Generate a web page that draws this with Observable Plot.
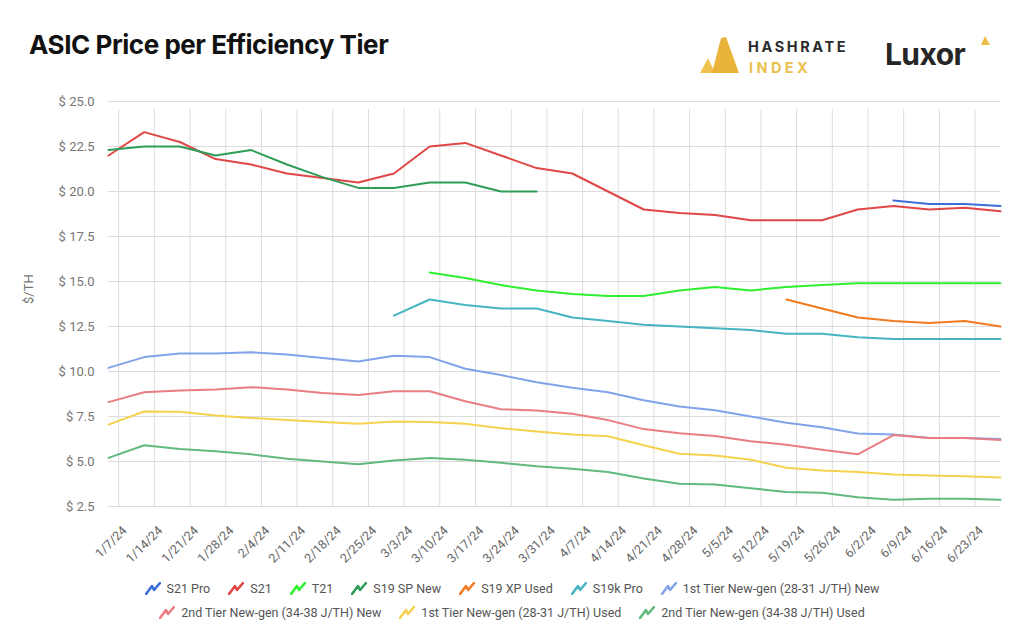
<!DOCTYPE html>
<html><head><meta charset="utf-8">
<script src="https://cdn.jsdelivr.net/npm/d3@7"></script>
<script src="https://cdn.jsdelivr.net/npm/@observablehq/plot@0.6"></script>
<style>
body{margin:0;background:#fff;width:1024px;height:642px;overflow:hidden;position:relative;font-family:Roboto,sans-serif}
#title{position:absolute;left:29px;top:29px;font:700 26px Inter,sans-serif;color:#111;letter-spacing:-0.45px;white-space:nowrap}
#logos{position:absolute;left:0;top:0}
#chart{position:absolute;left:0;top:90px}
#legend{position:absolute;left:0;top:576px;width:1024px;font:12.5px Roboto,sans-serif;color:#555}
.row{display:flex;justify-content:center;height:24px;align-items:center}
.item{display:flex;align-items:center;margin:0 9px}
.item svg{margin-right:6px}
</style></head><body>
<div id="title">ASIC Price per Efficiency Tier</div>
<svg id="logos" width="1024" height="90">
  <polygon points="700,73 708,58 715,73" fill="#f1c34e"/>
  <polygon points="712,73 721,38 726,37 739,73" fill="#eab43a"/>
  <text x="748" y="52" font-family="Inter,sans-serif" font-weight="700" font-size="14.5" letter-spacing="2.6" fill="#2b2b2b">HASHRATE</text>
  <text x="749" y="73" font-family="Inter,sans-serif" font-weight="700" font-size="14.5" letter-spacing="3.4" fill="#ebc04f">INDEX</text>
  <text x="885" y="65" font-family="Inter,sans-serif" font-weight="700" font-size="30" letter-spacing="-0.6" fill="#262626">Luxor</text>
  <polygon points="981,45 985,36 990,45" fill="#ecbd45"/>
</svg>
<div id="chart"></div>
<div id="legend"></div>
<script>
const dates = ["2024-01-05","2024-01-12","2024-01-19","2024-01-26","2024-02-02","2024-02-09","2024-02-16","2024-02-23","2024-03-01","2024-03-08","2024-03-15","2024-03-22","2024-03-29","2024-04-05","2024-04-12","2024-04-19","2024-04-26","2024-05-03","2024-05-10","2024-05-17","2024-05-24","2024-05-31","2024-06-07","2024-06-14","2024-06-21","2024-06-28"];
const tickDates = ["2024-01-07","2024-01-14","2024-01-21","2024-01-28","2024-02-04","2024-02-11","2024-02-18","2024-02-25","2024-03-03","2024-03-10","2024-03-17","2024-03-24","2024-03-31","2024-04-07","2024-04-14","2024-04-21","2024-04-28","2024-05-05","2024-05-12","2024-05-19","2024-05-26","2024-06-02","2024-06-09","2024-06-16","2024-06-23"];
const tickLabels = ["1/7/24","1/14/24","1/21/24","1/28/24","2/4/24","2/11/24","2/18/24","2/25/24","3/3/24","3/10/24","3/17/24","3/24/24","3/31/24","4/7/24","4/14/24","4/21/24","4/28/24","5/5/24","5/12/24","5/19/24","5/26/24","6/2/24","6/9/24","6/16/24","6/23/24"];
const yTicks = [2.5, 5, 7.5, 10, 12.5, 15, 17.5, 20, 22.5, 25];

const seriesNames = ["S21 Pro","S21","T21","S19 SP New","S19 XP Used","S19k Pro","1st Tier New-gen (28-31 J/TH) New","2nd Tier New-gen (34-38 J/TH) New","1st Tier New-gen (28-31 J/TH) Used","2nd Tier New-gen (34-38 J/TH) Used"];
const seriesColors = ["#3e6fd8","#e04747","#2ff02f","#2f9d57","#f27a20","#45b5c2","#80a3ea","#ea7d83","#f5d24e","#60b97e"];

const s21Pro = [null,null,null,null,null,null,null,null,null,null,null,null,null,null,null,null,null,null,null,null,null,null,19.5,19.3,19.3,19.2];
const s21 = [22.0,23.3,22.75,21.8,21.5,21.0,20.75,20.5,21.0,22.5,22.7,22.0,21.3,21.0,20.0,19.0,18.8,18.7,18.4,18.4,18.4,19.0,19.2,19.0,19.1,18.9];
const t21 = [null,null,null,null,null,null,null,null,null,15.5,15.2,14.8,14.5,14.3,14.2,14.2,14.5,14.7,14.5,14.7,14.8,14.9,14.9,14.9,14.9,14.9];
const s19spNew = [22.3,22.5,22.5,22.0,22.3,21.5,20.8,20.2,20.2,20.5,20.5,20.0,20.0,null,null,null,null,null,null,null,null,null,null,null,null,null];
const s19xpUsed = [null,null,null,null,null,null,null,null,null,null,null,null,null,null,null,null,null,null,null,14.0,13.5,13.0,12.8,12.7,12.8,12.5];
const s19kPro = [null,null,null,null,null,null,null,null,13.1,14.0,13.7,13.5,13.5,13.0,12.8,12.6,12.5,12.4,12.3,12.1,12.1,11.9,11.8,11.8,11.8,11.8];
const tier1New = [10.2,10.8,11.0,11.0,11.07,10.95,10.75,10.55,10.87,10.8,10.15,9.8,9.4,9.1,8.85,8.4,8.05,7.85,7.5,7.15,6.9,6.55,6.5,6.3,6.3,6.25];
const tier2New = [8.3,8.85,8.95,9.0,9.13,9.0,8.8,8.7,8.9,8.9,8.35,7.9,7.83,7.65,7.3,6.8,6.57,6.42,6.13,5.93,5.65,5.4,6.47,6.3,6.3,6.2];
const tier1Used = [7.05,7.78,7.76,7.56,7.42,7.3,7.19,7.1,7.22,7.19,7.1,6.85,6.67,6.5,6.4,5.9,5.43,5.33,5.1,4.65,4.5,4.42,4.28,4.22,4.18,4.11];
const tier2Used = [5.2,5.9,5.7,5.57,5.4,5.15,5.0,4.85,5.05,5.2,5.1,4.93,4.73,4.6,4.42,4.05,3.77,3.72,3.52,3.3,3.27,3.02,2.87,2.93,2.93,2.88];

const seriesValues = [s21Pro,s21,t21,s19spNew,s19xpUsed,s19kPro,tier1New,tier2New,tier1Used,tier2Used];

const rows = [];
seriesValues.forEach((vals, si) => {
  vals.forEach((v, i) => rows.push({series: seriesNames[si], date: new Date(dates[i]), value: v}));
});
const ticks = tickDates.map((d, i) => ({date: new Date(d), label: tickLabels[i]}));

const chart = Plot.plot({
  width: 1024,
  height: 484,
  marginLeft: 108,
  marginRight: 24,
  marginTop: 11,
  marginBottom: 68,
  style: {fontFamily: "Roboto, sans-serif", fontSize: "13px", background: "#fff", overflow: "visible"},
  x: {type: "utc", domain: [new Date(dates[0]), new Date(dates[dates.length - 1])], axis: null},
  y: {domain: [2.5, 25], axis: null},
  color: {domain: seriesNames, range: seriesColors},
  marks: [
    Plot.ruleY(yTicks, {y: d => d, stroke: "#dcdcdc", strokeWidth: 1, strokeOpacity: 1}),
    Plot.ruleX(ticks, {x: "date", y1: 2.5, y2: 25, insetBottom: -8, stroke: "#dcdcdc", strokeWidth: 1, strokeOpacity: 1}),
    Plot.text(yTicks, {y: d => d, frameAnchor: "left", dx: -14, textAnchor: "end", text: d => "$ " + d.toFixed(1), fill: "#767676", fontSize: 13}),
    Plot.text(["$/TH"], {frameAnchor: "left", dx: -80, rotate: -90, text: d => d, fill: "#767676", fontSize: 13}),
    Plot.text(ticks, {x: "date", y: 2.5, dx: 6, dy: 22, rotate: -45, textAnchor: "end", text: "label", fill: "#666", fontSize: 12.5}),
    Plot.line(rows, {x: "date", y: "value", z: "series", stroke: "series", strokeWidth: 2, curve: "linear"})
  ]
});
document.getElementById("chart").appendChild(chart);

// legend
const legend = document.getElementById("legend");
const rowsDef = [seriesNames.slice(0, 7), seriesNames.slice(7)];
rowsDef.forEach(names => {
  const r = document.createElement("div");
  r.className = "row";
  names.forEach(n => {
    const c = seriesColors[seriesNames.indexOf(n)];
    const it = document.createElement("div");
    it.className = "item";
    it.innerHTML = `<svg width="16" height="13"><polyline points="1,12 7,4 9,8 15,1" fill="none" stroke="${c}" stroke-width="2.6" stroke-linejoin="round" stroke-linecap="round"/></svg><span>${n}</span>`;
    r.appendChild(it);
  });
  legend.appendChild(r);
});
</script>
</body></html>
